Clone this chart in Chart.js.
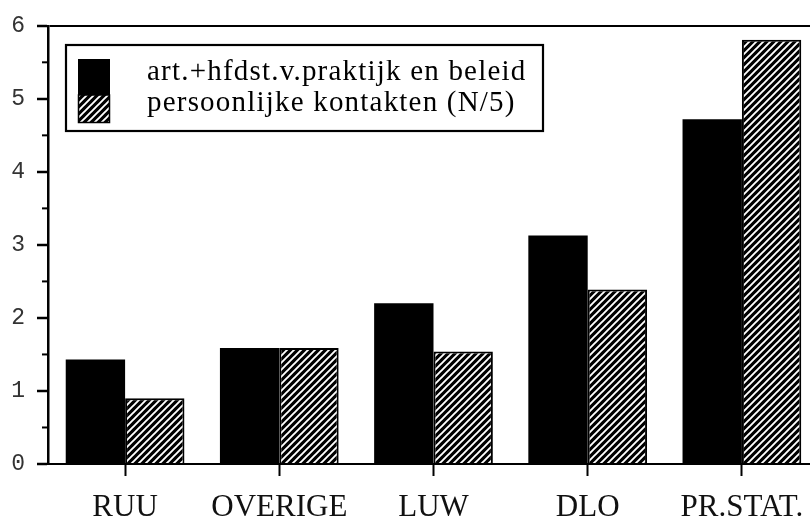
<!DOCTYPE html>
<html>
<head>
<meta charset="utf-8">
<script src="https://cdn.jsdelivr.net/npm/chart.js@4"></script>
<style>
  html, body { margin: 0; padding: 0; background: #fff; overflow: hidden; width: 810px; height: 518px; }
  canvas { display: block; }
</style>
</head>
<body>
<canvas id="c" width="830" height="518"></canvas>
<script>
const categories = ['RUU', 'OVERIGE', 'LUW', 'DLO', 'PR.STAT.'];
const seriesNames = ['art.+hfdst.v.praktijk en beleid', 'persoonlijke kontakten (N/5)'];
const praktijkValues = [1.43, 1.59, 2.20, 3.13, 4.72];
const kontaktenValues = [0.90, 1.59, 1.54, 2.39, 5.81];
const yTickLabels = ['0', '1', '2', '3', '4', '5', '6'];

function makeHatch() {
  const n = 7;
  const c = document.createElement('canvas');
  c.width = n; c.height = n;
  const g = c.getContext('2d');
  g.fillStyle = '#000';
  g.fillRect(0, 0, n, n);
  g.strokeStyle = '#fff';
  g.lineWidth = 1.9;
  g.beginPath();
  g.moveTo(-1, n + 1); g.lineTo(n + 1, -1);
  g.moveTo(-1, 1); g.lineTo(1, -1);
  g.moveTo(n - 1, n + 1); g.lineTo(n + 1, n - 1);
  g.stroke();
  return document.getElementById('c').getContext('2d').createPattern(c, 'repeat');
}
const hatch = makeHatch();

const legendBox = {
  id: 'legendBox',
  afterDraw(chart) {
    const ctx = chart.ctx;
    ctx.save();
    ctx.fillStyle = '#fff';
    ctx.fillRect(66, 45, 477, 86);
    ctx.strokeStyle = '#000';
    ctx.lineWidth = 2.2;
    ctx.strokeRect(66, 45, 477, 86);
    const ds = chart.data.datasets;
    ctx.fillStyle = ds[0].backgroundColor;
    ctx.fillRect(78, 59, 32, 36);
    ctx.fillStyle = ds[1].backgroundColor;
    ctx.fillRect(78, 95, 32, 28);
    ctx.strokeStyle = '#000';
    ctx.lineWidth = 1.5;
    ctx.strokeRect(78.5, 95, 31, 27.5);
    ctx.fillStyle = '#000';
    ctx.font = '29px "Liberation Serif", "Times New Roman", serif';
    if ('letterSpacing' in ctx) ctx.letterSpacing = '1.2px';
    ctx.textBaseline = 'alphabetic';
    ctx.textAlign = 'left';
    ctx.fillText(ds[0].label, 147, 80);
    ctx.fillText(ds[1].label, 147, 111);
    ctx.restore();
  }
};

const minorTicks = {
  id: 'minorTicks',
  afterDraw(chart) {
    const y = chart.scales.y;
    const ctx = chart.ctx;
    ctx.save();
    ctx.strokeStyle = '#000';
    ctx.lineWidth = 2;
    y.ticks.forEach(t => {
      if (Math.abs(t.value - Math.round(t.value)) > 0.01) {
        const py = y.getPixelForValue(t.value);
        ctx.beginPath();
        ctx.moveTo(y.right - 6, py);
        ctx.lineTo(y.right, py);
        ctx.stroke();
      }
    });
    ctx.restore();
  }
};

new Chart(document.getElementById('c'), {
  type: 'bar',
  data: {
    labels: categories,
    datasets: [
      { label: seriesNames[0], data: praktijkValues, backgroundColor: '#000', borderWidth: 0 },
      { label: seriesNames[1], data: kontaktenValues, backgroundColor: hatch, borderColor: '#000', borderWidth: 2, borderSkipped: 'bottom' }
    ]
  },
  options: {
    responsive: false,
    animation: false,
    layout: { padding: { top: 23, right: 11, left: 0, bottom: 0 } },
    plugins: { legend: { display: false }, tooltip: { enabled: false } },
    datasets: { bar: { barPercentage: 1, categoryPercentage: 0.77 } },
    scales: {
      x: {
        offset: true,
        grid: { offset: false, drawOnChartArea: false, drawTicks: true, tickLength: 12, tickColor: '#000', tickWidth: 2 },
        border: { display: true, color: '#000', width: 2 },
        ticks: { color: '#111', padding: 13, font: { family: '"Liberation Serif", "Times New Roman", serif', size: 31 } },
        afterFit(s) { s.height = 54; }
      },
      y: {
        min: 0, max: 6,
        grid: {
          drawOnChartArea: true,
          color: ctx => (ctx.tick && ctx.tick.value === 6) ? '#000' : 'rgba(0,0,0,0)',
          lineWidth: 2,
          drawTicks: true, tickLength: 11, tickWidth: 2.5,
          tickColor: ctx => (ctx.tick && Number.isInteger(ctx.tick.value)) ? '#000' : 'rgba(0,0,0,0)'
        },
        border: { display: true, color: '#000', width: 2.5 },
        ticks: {
          stepSize: 0.5,
          autoSkip: false,
          color: '#333',
          padding: 12,
          font: { family: '"Liberation Mono", "Courier New", monospace', size: 23 },
          callback: v => Number.isInteger(v) ? yTickLabels[v] : ''
        },
        afterFit(s) { s.width = 48; }
      }
    }
  },
  plugins: [minorTicks, legendBox]
});
</script>
</body>
</html>
